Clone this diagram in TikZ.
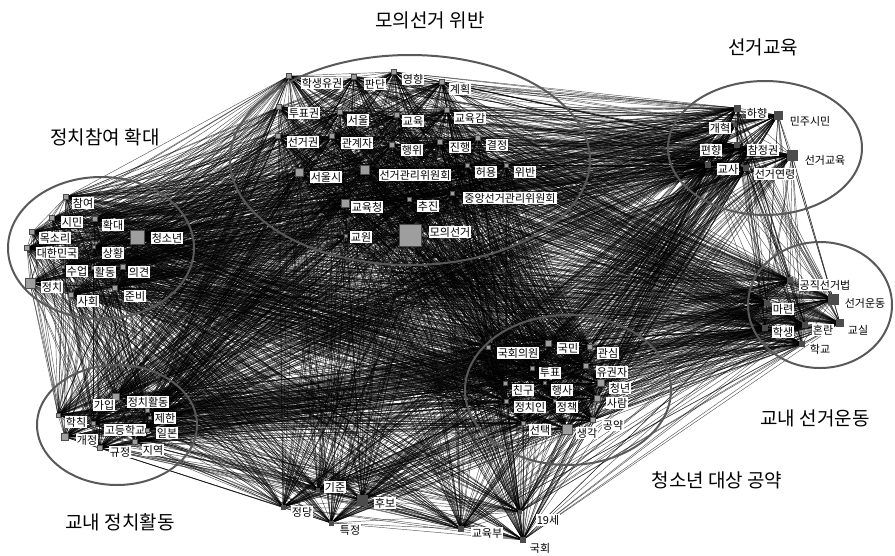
\documentclass[tikz,border=0pt]{standalone}
\usepackage{fontspec}
\newfontfamily\kr{Noto Sans CJK KR}
\definecolor{sqg}{gray}{0.62}
\definecolor{sqd}{gray}{0.3}
\begin{document}
\begin{tikzpicture}[x=1pt,y=-1pt,
 edge/.style={line width=0.45pt, draw=black, opacity=0.65},
 sq/.style={draw=black!70, line width=0.4pt, inner sep=0pt, rectangle},
 lab/.style={fill=white, inner sep=1pt, font=\kr\fontsize{11}{12}\selectfont},
 ttl/.style={font=\kr\fontsize{19}{21}\selectfont, inner sep=0pt},
 cl/.style={draw=black!65, line width=2pt}]
\useasboundingbox (0,0) rectangle (895,555);
\def\nodelist{
1/289/76/5/sqg/322/83/학생유권,
2/354/77/5/sqg/375/84/판단,
3/394/72/5/sqg/413/79/영향,
4/442/82/5/sqg/460/89/계획,
5/279/107/5/sqg/304/113/투표권,
6/340/112/5/sqg/358/120/서울,
7/397/115/5/sqg/413/121/교육,
8/447/110/5/sqg/470/118/교육감,
9/278/136/5/sqg/303/142/선거권,
10/332/136/5/sqg/357/143/관계자,
11/392/145/5/sqg/412/150/행위,
12/440/142/5/sqg/460/147/진행,
13/478/138/5/sqg/497/145/결정,
14/299/172/8/sqg/326/177/서울시,
15/365/170/9/sqg/415/175/선거관리위원회,
16/467/165/4/sqg/486/172/허용,
17/506/165/4/sqg/525/172/위반,
18/452/193/4/sqg/510/198/중앙선거관리위원회,
19/345/203/8/sqg/367/207/교육청,
20/409/199/4/sqg/428/206/추진,
21/346/236/3/sqg/361/237/교원,
22/410/235/22/sqg/450/232/모의선거,
23/66/197/5/sqg/83/203/참여,
24/52/218/5/sqg/72/222/시민,
25/95/219/5/sqg/113/225/확대,
26/32/232/5/sqg/55/238/목소리,
27/137/237/14/sqg/167/238/청소년,
28/27/248/5/sqg/57/253/대한민국,
29/94/247/3/sqg/113/253/상황,
30/63/267/3/sqg/77/271/수업,
31/93/268/3/sqg/105/272/활동,
32/123/267/5/sqg/139/272/의견,
33/30/283/10/sqg/52/287/정치,
34/71/295/5/sqg/88/301/사회,
35/115/288/5/sqg/135/296/준비,
36/737/108/6/sqd/757/113/하향,
37/778/115/8/sqd/810/121/민주시민,
38/735/125/3/sqd/720/128/개혁,
39/737/145/5/sqd/711/150/편향,
40/750/148/3/sqd/763/150/참정권,
41/792/155/10/sqd/825/160/선거교육,
42/708/165/5/sqd/728/169/교사,
43/746/168/5/sqd/775/174/선거연령,
44/790/280/5/sqd/825/285/공직선거법,
45/833/299/10/sqd/865/303/선거운동,
46/767/303/5/sqd/783/309/마련,
47/840/323/7/sqd/858/330/교실,
48/765/328/5/sqd/783/332/학생,
49/805/325/5/sqd/823/330/혼란,
50/802/344/5/sqd/820/349/학교,
51/116/397/7/sqg/104/405/가입,
52/147/410/4/sqg/148/402/정치활동,
53/58/415/4/sqg/76/422/학칙,
54/150/418/3/sqg/165/418/제한,
55/93/423/4/sqg/125/430/고등학교,
56/147/430/4/sqg/167/433/일본,
57/65/437/7/sqg/87/440/개정,
58/100/448/5/sqg/120/452/규정,
59/135/442/5/sqg/153/450/지역,
60/488/347/4/sqg/518/353/국회의원,
61/548/343/6/sqg/568/348/국민,
62/590/347/5/sqg/608/353/관심,
63/532/368/4/sqg/550/373/투표,
64/586/366/5/sqg/612/372/유권자,
65/505/383/4/sqg/523/390/친구,
66/545/383/3/sqg/562/390/행사,
67/601/383/7/sqg/620/388/청년,
68/506/401/4/sqg/530/407/정치인,
69/555/401/3/sqg/567/407/정책,
70/597/398/6/sqg/617/403/사람,
71/523/423/4/sqg/540/430/선택,
72/567/429/10/sqg/587/433/생각,
73/593/420/5/sqg/613/425/공약,
74/283/507/4/sqd/302/512/정당,
75/318/490/3/sqd/335/487/기준,
76/362/500/10/sqd/385/503/후보,
77/331/523/4/sqd/350/530/특정,
78/461/529/5/sqd/487/533/교육부,
79/523/540/5/sqd/540/548/국회,
80/520/512/3/sqd/548/520/19세}
\foreach \k/\sx/\sy/\s/\c/\lx/\ly/\t in \nodelist {\coordinate (n\k) at (\sx,\sy);}
\foreach \i in {1,...,80}{\foreach \j in {1,...,80}{\ifnum\j>\i \draw[edge] (n\i) -- (n\j);\fi}}
\draw[cl] (410,160) ellipse [x radius=180, y radius=105];
\draw[cl] (101,248) ellipse [x radius=93, y radius=71];
\draw[cl] (765,148) ellipse [x radius=97, y radius=67];
\draw[cl] (820,305) ellipse [x radius=72, y radius=63];
\draw[cl] (117,425) ellipse [x radius=80, y radius=60];
\draw[cl] (568,390) ellipse [x radius=103, y radius=75];
\foreach \k/\sx/\sy/\s/\c/\lx/\ly/\t in \nodelist {
 \node[sq, fill=\c, minimum size=\s pt] (s\k) at (n\k) {};
 \node[lab] (l\k) at (\lx,\ly) {\t};
}
\node[ttl] (t1) at (430,20) {모의선거 위반};
\node[ttl] (t2) at (105,137) {정치참여 확대};
\node[ttl] (t3) at (763,47) {선거교육};
\node[ttl] (t4) at (815,418) {교내 선거운동};
\node[ttl] (t5) at (717,480) {청소년 대상 공약};
\node[ttl] (t6) at (120,522) {교내 정치활동};
\end{tikzpicture}
\end{document}
